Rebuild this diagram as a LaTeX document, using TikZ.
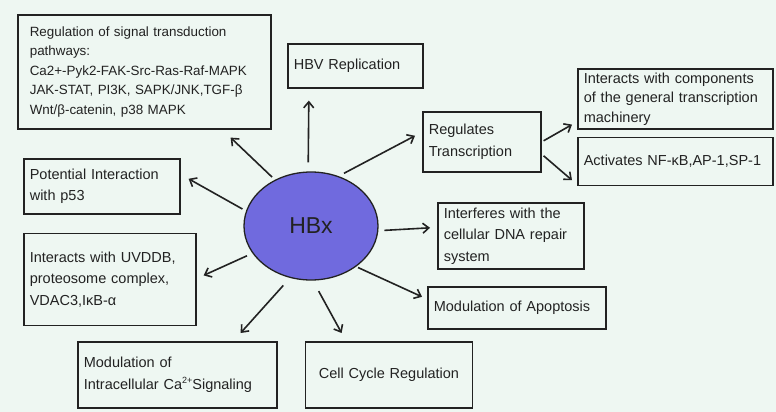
\documentclass[tikz,border=0pt]{standalone}
\usepackage{fontspec}
\setmainfont{Liberation Sans}
\usetikzlibrary{positioning,shapes.geometric,arrows.meta}
\definecolor{bgmint}{RGB}{238,247,242}
\definecolor{hbxblue}{RGB}{112,106,222}
\definecolor{inkgray}{RGB}{34,34,34}
\newcommand{\supsmall}[1]{\raisebox{0.75ex}{\fontsize{9}{9}\selectfont #1}}
\tikzset{
  box/.style={draw=inkgray, line width=1.6pt, anchor=north west, align=left, inner xsep=6pt, text=inkgray, font=\fontsize{14.5}{21.5}\selectfont},
  arr/.style={-{Straight Barb[length=6pt,width=10pt]}, line width=1.6pt, draw=inkgray}
}

\begin{document}
\begin{tikzpicture}[x=1pt,y=-1pt]
        % Background
        \useasboundingbox (0,0) rectangle (776,412);
        \fill[bgmint] (0,0) rectangle (776,412);

        % Nodes
        \node (hbx) [ellipse, draw=inkgray, line width=1.3pt, fill=hbxblue, minimum width=134pt, minimum height=108pt, text=inkgray, font=\fontsize{23}{26}\selectfont] at (311,226) {HBx};
        \node (sig) [box, text width=229pt, inner xsep=12pt, minimum height=114pt, font=\fontsize{13.4}{19.5}\selectfont] at (17,14) {Regulation of signal transduction\\pathways:\\Ca2+-Pyk2-FAK-Src-Ras-Raf-MAPK\\JAK-STAT, PI3K, SAPK/JNK,TGF-β\\Wnt/β-catenin, p38 MAPK};
        \node (hbv) [box, text width=123pt, minimum height=44pt] at (287,43) {HBV Replication};
        \node (reg) [box, text width=106pt, minimum height=60pt] at (422,111) {Regulates\\Transcription};
        \node (comp) [box, text width=183pt, minimum height=60pt, font=\fontsize{14.5}{19.5}\selectfont] at (577,68) {Interacts with components\\of the general transcription\\machinery};
        \node (act) [box, text width=183pt, minimum height=48pt, below=7pt of comp] {Activates NF-κB,AP-1,SP-1};
        \node (pot) [box, text width=144pt, minimum height=55pt] at (23,158) {Potential Interaction\\with p53};
        \node (uvd) [box, text width=160pt, minimum height=92pt, below=18pt of pot.south west, anchor=north west] {Interacts with UVDDB,\\proteosome complex,\\VDAC3,IκB-α};
        \node (intra) [box, text width=187pt, minimum height=66pt] at (77,341) {Modulation of\\Intracellular Ca\supsmall{2+}Signaling};
        \node (cc) [box, text width=155pt, minimum height=66pt, align=center, right=27pt of intra.north east, anchor=north west] {Cell Cycle Regulation};
        \node (intf) [box, text width=134pt, minimum height=66pt] at (437,202) {Interferes with the\\cellular DNA repair\\system};
        \node (apo) [box, text width=166pt, minimum height=42pt] at (427,286) {Modulation of Apoptosis};

        % Arrows
        \draw[arr, shorten <=4pt] (hbx.128) -- ([shift={(-41,8)}]sig.south east);
        \draw[arr, shorten <=9pt] (hbx.93) -- ([shift={(-46.5,12)}]hbv.south);
        \draw[arr, shorten <=6pt] (hbx.61) -- ([shift={(-7,-6)}]reg.west);
        \draw[arr] ([shift={(2,-1)}]reg.east) -- ([shift={(-5,-5)}]comp.south west);
        \draw[arr] ([shift={(2,14)}]reg.east) -- ([shift={(-5,-6)}]act.south west);
        \draw[arr, shorten <=4pt] (hbx.167) -- ([shift={(8,-7.5)}]pot.east);
        \draw[arr, shorten <=6pt] (hbx.205) -- ([shift={(7,-4)}]uvd.east);
        \draw[arr, shorten <=10pt] (hbx.248) -- ([shift={(-37,-8)}]intra.north east);
        \draw[arr, shorten <=12pt] (hbx.272) -- ([shift={(37,-8)}]cc.north west);
        \draw[arr, shorten <=6pt] (hbx.356) -- ([shift={(-7,-8)}]intf.west);
        \draw[arr, shorten <=2pt] (hbx.318) -- ([shift={(-5,-11)}]apo.west);
\end{tikzpicture}
\end{document}
